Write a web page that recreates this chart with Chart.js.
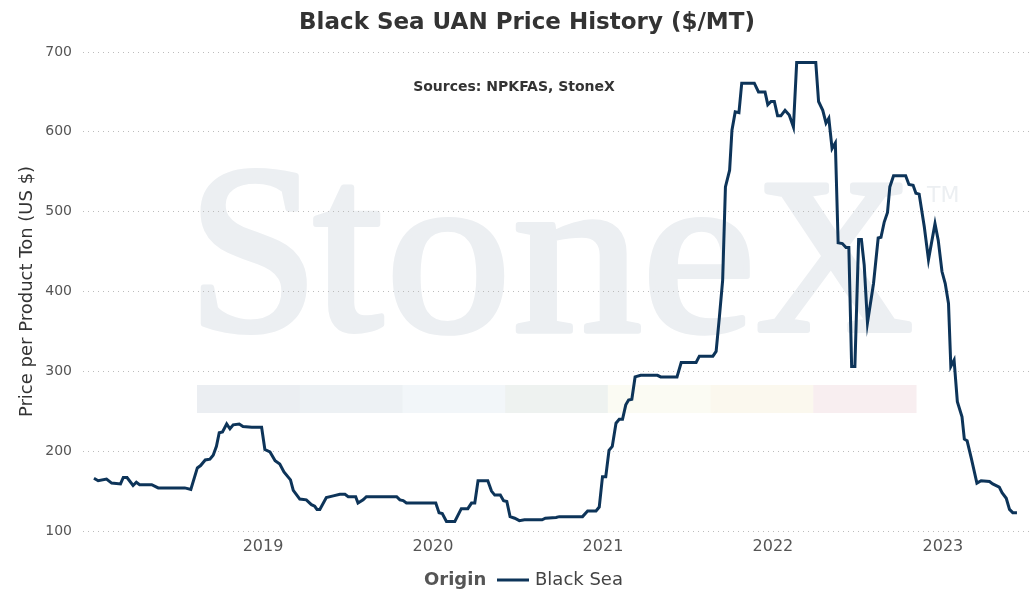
<!DOCTYPE html>
<html>
<head>
<meta charset="utf-8">
<script src="https://cdn.jsdelivr.net/npm/chart.js@4"></script>
<style>
  html, body { margin: 0; padding: 0; background: #fff; }
  #wrap { width: 1035px; height: 610px; position: relative; }
</style>
</head>
<body>
<div id="wrap"><canvas id="uanChart"></canvas></div>
<script>
// weekly Black Sea UAN quotes (turning points)
const weekDates = [
  '2018-01-03','2018-01-12','2018-01-30','2018-02-10','2018-03-01','2018-03-07','2018-03-15','2018-03-28',
  '2018-04-04','2018-04-11','2018-05-07','2018-05-21','2018-07-17','2018-07-30','2018-08-13','2018-08-20',
  '2018-08-30','2018-09-09','2018-09-16','2018-09-23','2018-09-29','2018-10-06','2018-10-15','2018-10-22',
  '2018-10-29','2018-11-11','2018-11-19','2018-12-08','2018-12-29','2019-01-05','2019-01-16','2019-01-27',
  '2019-02-06','2019-02-15','2019-03-01','2019-03-07','2019-03-21','2019-04-04','2019-04-15','2019-04-22',
  '2019-04-27','2019-05-03','2019-05-17','2019-06-01','2019-06-15','2019-06-26','2019-07-03','2019-07-19',
  '2019-07-24','2019-08-04','2019-08-11','2019-10-15','2019-10-22','2019-10-29','2019-11-05','2020-01-07',
  '2020-01-14','2020-01-21','2020-01-30','2020-02-17','2020-03-02','2020-03-16','2020-03-24','2020-03-31',
  '2020-04-07','2020-04-28','2020-05-06','2020-05-13','2020-05-25','2020-06-01','2020-06-08','2020-06-15',
  '2020-06-25','2020-07-05','2020-07-16','2020-08-23','2020-08-30','2020-09-22','2020-09-29','2020-11-18',
  '2020-11-29','2020-12-17','2020-12-24','2020-12-31','2021-01-07','2021-01-14','2021-01-21','2021-01-29',
  '2021-02-05','2021-02-12','2021-02-19','2021-02-25','2021-03-04','2021-03-11','2021-03-23','2021-04-28',
  '2021-05-05','2021-06-09','2021-06-18','2021-07-20','2021-07-27','2021-08-25','2021-09-01','2021-09-08',
  '2021-09-15','2021-09-21','2021-09-30','2021-10-05','2021-10-12','2021-10-20','2021-10-26','2021-11-22',
  '2021-12-01','2021-12-15','2021-12-21','2021-12-28','2022-01-04','2022-01-11','2022-01-18','2022-01-27',
  '2022-02-05','2022-02-14','2022-02-21','2022-04-03','2022-04-09','2022-04-18','2022-04-25','2022-05-01',
  '2022-05-08','2022-05-15','2022-05-21','2022-05-30','2022-06-07','2022-06-13','2022-06-19','2022-06-26',
  '2022-07-04','2022-07-10','2022-07-16','2022-07-23','2022-08-05','2022-08-15','2022-08-21','2022-08-28',
  '2022-09-04','2022-09-09','2022-09-17','2022-10-13','2022-10-20','2022-10-29','2022-11-04','2022-11-11',
  '2022-11-22','2022-12-01','2022-12-15','2022-12-22','2022-12-30','2023-01-06','2023-01-13','2023-01-18',
  '2023-01-25','2023-02-01','2023-02-11','2023-02-16','2023-02-22','2023-03-03','2023-03-15','2023-03-24',
  '2023-04-11','2023-04-18','2023-05-02','2023-05-08','2023-05-17','2023-05-24','2023-05-31','2023-06-09'
];
const blackSea = [
  166,163,165,160,159,167,167,157,
  161,158,158,154,154,152,179,182,
  189,190,195,206,223,224,234,228,
  233,234,231,230,230,202,199,188,
  184,174,164,151,140,139,133,131,
  127,127,142,144,146,146,143,143,
  135,139,143,143,139,138,135,135,
  123,122,112,112,128,128,135,135,
  163,163,150,145,145,138,137,118,
  116,113,114,114,116,117,118,118,
  125,125,130,168,168,201,206,235,
  240,240,258,264,265,293,295,295,
  293,293,311,311,319,319,325,368,
  414,531,552,602,625,624,661,661,
  650,650,634,638,638,620,620,627,
  621,606,687,687,638,627,611,617,
  579,586,461,460,455,455,306,306,
  465,465,433,361,410,467,468,487,
  499,531,545,545,534,533,523,522,
  481,440,485,464,425,410,385,306,
  314,262,243,215,213,191,160,163,
  162,159,155,148,141,127,123,123
];
const tickYears = [2019, 2020, 2021, 2022, 2023];
const priceTicks = [100, 200, 300, 400, 500, 600, 700];
const bandColors = ['#ebeef2', '#edf1f4', '#f2f6f9', '#eef2f0', '#fbfbf3', '#fbf8ee', '#f8eef0'];

function toYear(s) {
  const [y, m, d] = s.split('-').map(Number);
  const start = Date.UTC(y, 0, 1), end = Date.UTC(y + 1, 0, 1);
  return y + (Date.UTC(y, m - 1, d) - start) / (end - start);
}

const points = weekDates.map((d, i) => ({ x: toYear(d), y: blackSea[i] }));

// watermark glyph boxes: [char, left, right, top, bottom]
const mark = [
  ['S', 200, 307, 168, 335],
  ['t', 312, 385, 185, 335],
  ['o', 392, 505, 217, 336],
  ['n', 515, 641, 218, 334],
  ['e', 648, 750, 217, 336],
  ['X', 757, 912, 182, 333]
];

function glyph(c, ch, x0, x1, top, bottom) {
  const pad = 3; // half of the thickening stroke
  x0 += pad; x1 -= pad; top += pad; bottom -= pad;
  const m = c.measureText(ch);
  const sx = (x1 - x0) / (m.actualBoundingBoxLeft + m.actualBoundingBoxRight);
  const sy = (bottom - top) / (m.actualBoundingBoxAscent + m.actualBoundingBoxDescent);
  c.save();
  c.translate(x0 + m.actualBoundingBoxLeft * sx, bottom - m.actualBoundingBoxDescent * sy);
  c.scale(sx, sy);
  c.fillText(ch, 0, 0);
  c.lineWidth = 2 * pad / Math.max(sx, sy);
  c.lineJoin = 'round';
  c.strokeText(ch, 0, 0);
  c.restore();
}

// StoneX watermark + title / sources / legend drawn by hand
const decor = {
  id: 'decor',
  beforeDraw(chart) {
    const c = chart.ctx;
    c.save();
    c.fillStyle = '#eceff2';
    c.strokeStyle = '#eceff2';
    c.textBaseline = 'alphabetic';
    c.textAlign = 'left';
    c.font = '200px "Liberation Serif", serif';
    mark.forEach(g => glyph(c, g[0], g[1], g[2], g[3], g[4]));
    c.font = '22px "DejaVu Sans", sans-serif';
    c.fillText('TM', 927, 202);
    const bw = (916 - 197) / bandColors.length;
    bandColors.forEach((col, i) => {
      c.fillStyle = col;
      c.fillRect(197 + i * bw, 385, bw + 0.5, 28);
    });
    c.restore();
  },
  afterDraw(chart) {
    const c = chart.ctx;
    c.save();
    c.textBaseline = 'middle';
    c.textAlign = 'center';
    c.fillStyle = '#333';
    c.font = 'bold 23px "DejaVu Sans", sans-serif';
    c.fillText('Black Sea UAN Price History ($/MT)', 527, 23);
    c.font = 'bold 14px "DejaVu Sans", sans-serif';
    c.fillText('Sources: NPKFAS, StoneX', 514, 87);

    c.textAlign = 'left';
    c.font = 'bold 18px "DejaVu Sans", sans-serif';
    c.fillStyle = '#555';
    c.fillText('Origin', 424, 580);
    c.strokeStyle = '#0d3459';
    c.lineWidth = 3;
    c.beginPath();
    c.moveTo(497, 580);
    c.lineTo(529, 580);
    c.stroke();
    c.font = '18px "DejaVu Sans", sans-serif';
    c.fillStyle = '#444';
    c.fillText('Black Sea', 535, 580);
    c.restore();
  }
};

new Chart(document.getElementById('uanChart'), {
  type: 'line',
  data: {
    datasets: [{
      label: 'Black Sea',
      data: points,
      borderColor: '#0d3459',
      backgroundColor: '#0d3459',
      borderWidth: 3,
      pointRadius: 0,
      tension: 0,
      fill: false
    }]
  },
  options: {
    responsive: true,
    maintainAspectRatio: false,
    animation: false,
    layout: { padding: { top: 52, right: 2, left: 0, bottom: 0 } },
    plugins: {
      legend: { display: false },
      title: { display: false },
      tooltip: { enabled: false }
    },
    scales: {
      x: {
        type: 'linear',
        min: 2017.941,
        max: 2023.53,
        afterBuildTicks(scale) {
          scale.ticks = tickYears.map(v => ({ value: v }));
        },
        afterFit(scale) { scale.height = 79; },
        grid: { display: false, drawTicks: false },
        border: { display: false },
        ticks: {
          padding: 6,
          color: '#555',
          font: { family: '"DejaVu Sans", sans-serif', size: 16 },
          callback: v => String(v),
          maxRotation: 0
        }
      },
      y: {
        min: 100,
        max: 700,
        afterBuildTicks(scale) {
          scale.ticks = priceTicks.map(v => ({ value: v }));
        },
        afterFit(scale) { scale.width = 83; },
        grid: { color: '#bdbdbd', lineWidth: 1, drawTicks: false },
        border: { display: false, dash: [1, 4] },
        ticks: {
          padding: 11,
          color: '#555',
          font: { family: '"DejaVu Sans", sans-serif', size: 14 }
        },
        title: {
          display: true,
          text: 'Price per Product Ton (US $)',
          color: '#333',
          font: { family: '"DejaVu Sans", sans-serif', size: 18 },
          padding: { top: 17, bottom: 0 }
        }
      }
    }
  },
  plugins: [decor]
});
</script>
</body>
</html>
